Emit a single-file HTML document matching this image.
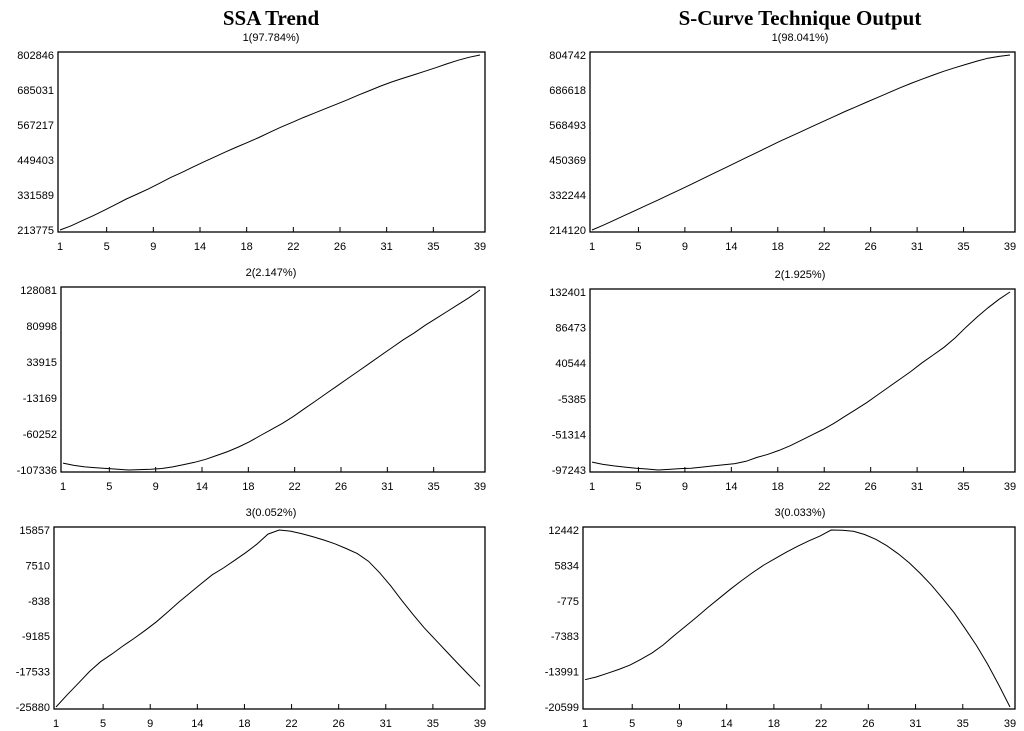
<!DOCTYPE html>
<html><head><meta charset="utf-8"><style>
body{margin:0;background:#fff;}
svg{display:block;font-family:"Liberation Sans",Arial,sans-serif;}
</style></head><body>
<svg id="c" width="1024" height="731">
<text x="271" y="25" text-anchor="middle" font-family="Liberation Serif,serif" font-weight="bold" font-size="21">SSA Trend</text>
<text x="800" y="25" text-anchor="middle" font-family="Liberation Serif,serif" font-weight="bold" font-size="21">S-Curve Technique Output</text>
</svg>
<script>
const xLabels=["1","5","9","14","18","22","26","31","35","39"];
const subtitles=["1(97.784%)","2(2.147%)","3(0.052%)","1(98.041%)","2(1.925%)","3(0.033%)"];
const leftS1=[213775,228000,245000,262000,280000,299000,318000,335000,352000,371000,390000,407000,425000,443000,460000,477000,493000,509000,525000,543000,560000,576000,592000,607000,622000,637000,652000,668000,683000,698000,712000,724000,736000,748000,760000,773000,785000,795000,802846];
const leftS2=[-98000,-101000,-103000,-104000,-105000,-106000,-107000,-106500,-106000,-105000,-103000,-100000,-97000,-93000,-88000,-83000,-77000,-70000,-62000,-54000,-46000,-37000,-27000,-17000,-7000,3000,13000,23000,33000,43000,53000,63000,72000,82000,91000,100000,109000,118000,128081];
const leftS3=[-25880,-23000,-20300,-17500,-15200,-13400,-11500,-9700,-7800,-5800,-3500,-1200,1000,3200,5300,6900,8700,10500,12500,14900,15857,15600,15000,14300,13500,12600,11500,10300,8500,5800,2700,-800,-4100,-7200,-10000,-12800,-15600,-18300,-21000];
const rightS1=[214120,230000,247000,264000,281000,298000,315000,333000,350000,368000,386000,404000,422000,440000,458000,476000,494000,512000,529000,546000,563000,580000,597000,614000,630000,646000,662000,678000,694000,709000,723000,737000,750000,762000,773000,784000,794000,800000,804742];
const rightS2=[-87000,-90000,-92000,-93500,-95000,-96000,-97243,-96500,-95500,-95000,-93500,-92000,-90500,-89000,-86000,-81000,-77000,-72000,-66000,-59000,-52000,-45000,-37000,-28000,-19000,-10000,0,10000,20000,30000,41000,51000,61000,73000,87000,100000,112000,123000,132401];
const rightS3=[-15500,-15000,-14300,-13600,-12800,-11700,-10500,-9000,-7200,-5500,-3800,-2000,-300,1400,3000,4500,5900,7100,8300,9400,10400,11300,12442,12400,12200,11600,10700,9500,8000,6300,4300,2100,-400,-3000,-6000,-9100,-12600,-16500,-20599];
const yTicks1L=["213775","331589","449403","567217","685031","802846"];
const yTicks2L=["-107336","-60252","-13169","33915","80998","128081"];
const yTicks3L=["-25880","-17533","-9185","-838","7510","15857"];
const yTicks1R=["214120","332244","450369","568493","686618","804742"];
const yTicks2R=["-97243","-51314","-5385","40544","86473","132401"];
const yTicks3R=["-20599","-13991","-7383","-775","5834","12442"];

const NS="http://www.w3.org/2000/svg";
const svg=document.getElementById('c');
function mk(tag,attrs){const e=document.createElementNS(NS,tag);for(const k in attrs)e.setAttribute(k,attrs[k]);svg.appendChild(e);return e;}
const panels=[
 {x0:58,x1:485,y0:52,y1:232,data:leftS1,ticks:yTicks1L,sub:subtitles[0],sx:271,name:'left-panel-1'},
 {x0:61,x1:485,y0:287,y1:472,data:leftS2,ticks:yTicks2L,sub:subtitles[1],sx:271,name:'left-panel-2'},
 {x0:54,x1:485,y0:527,y1:709,data:leftS3,ticks:yTicks3L,sub:subtitles[2],sx:271,name:'left-panel-3'},
 {x0:590,x1:1015,y0:52,y1:232,data:rightS1,ticks:yTicks1R,sub:subtitles[3],sx:800,name:'right-panel-1'},
 {x0:590,x1:1015,y0:289,y1:472,data:rightS2,ticks:yTicks2R,sub:subtitles[4],sx:800,name:'right-panel-2'},
 {x0:583,x1:1015,y0:527,y1:709,data:rightS3,ticks:yTicks3R,sub:subtitles[5],sx:800,name:'right-panel-3'}
];
panels.forEach(p=>{
 const n=p.data.length;
 const mn=Math.min(...p.data), mx=Math.max(...p.data);
 const xa=p.x0+2, xb=p.x1-5;
 const ya=p.y1-2, yb=p.y0+3;
 const X=i=>xa+i*(xb-xa)/(n-1);
 const Y=v=>ya-(v-mn)/(mx-mn)*(ya-yb);
 const st=mk('text',{x:p.sx,y:p.y0-11,'text-anchor':'middle','font-size':'11'});
 st.textContent=p.sub;
 
 
 const fr=mk('rect',{x:p.x0,y:p.y0,width:p.x1-p.x0,height:p.y1-p.y0,fill:'none',stroke:'#000','stroke-width':'1.3'});
 
 
 p.ticks.forEach((t,k)=>{
  const yy=ya-k*(ya-yb)/(p.ticks.length-1);
  const tx=mk('text',{x:p.x0-4,y:yy+4,'text-anchor':'end','font-size':'11'});
  tx.textContent=t;
  
  
 });
 xLabels.forEach((t,k)=>{
  const xx=xa+k*(xb-xa)/(xLabels.length-1);
  if(k>0&&k<xLabels.length-1){
   const tm=mk('line',{x1:xx,x2:xx,y1:p.y1,y2:p.y1-5,stroke:'#000','stroke-width':'1'});
   
   
  }
  const tx=mk('text',{x:xx,y:p.y1+18,'text-anchor':'middle','font-size':'11'});
  tx.textContent=t;
  
  
 });
 const pts=p.data.map((v,i)=>X(i).toFixed(1)+','+Y(v).toFixed(1)).join(' ');
 const pl=mk('polyline',{points:pts,fill:'none',stroke:'#000','stroke-width':'1'});
 
 
});
</script>
</body></html>
